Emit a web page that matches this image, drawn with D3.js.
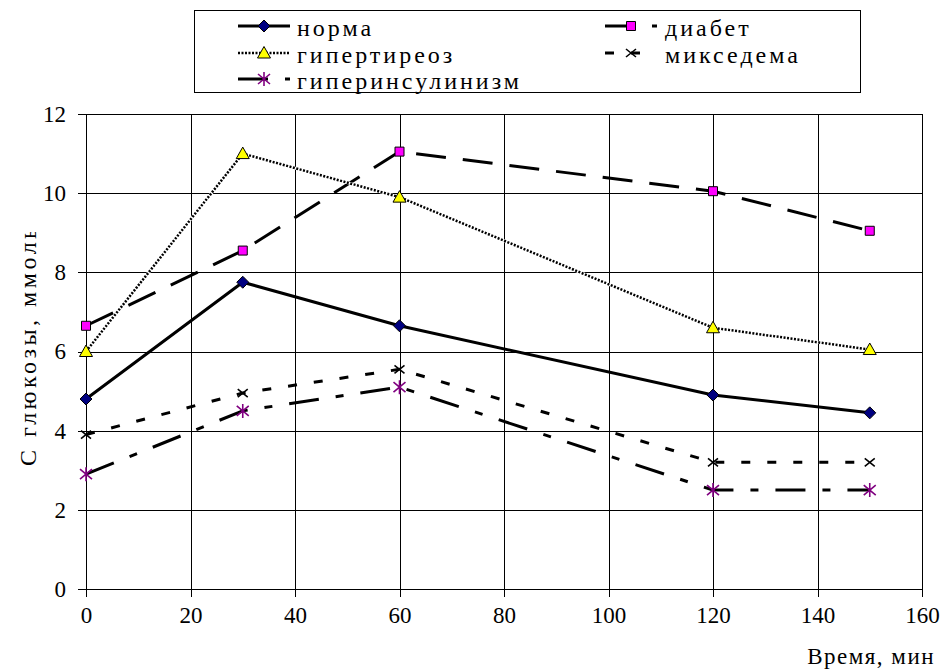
<!DOCTYPE html>
<meta charset="utf-8">
<style>
	body { margin: 0; background: #fff; }
	.grid line { stroke: #000; stroke-width: 1; shape-rendering: crispEdges; }
	.axis path, .axis line { stroke: #000; shape-rendering: crispEdges; }
</style>
<div id="chart"></div>
<script src="https://d3js.org/d3.v7.min.js"></script>
<script>

	// ---- //
	// Data //
	// ---- //
	const times = [0, 30, 60, 120, 150];
	const norma = [4.8, 7.75, 6.65, 4.9, 4.45];
	const diabet = [6.65, 8.55, 11.05, 10.05, 9.05];
	const hyperthyroid = [6.0, 11.0, 9.9, 6.6, 6.05];
	const myxedema = [3.9, 4.95, 5.55, 3.2, 3.2];
	const hyperinsulin = [2.9, 4.5, 5.1, 2.5, 2.5];
	const seriesNames = ["норма", "диабет", "гипертиреоз", "микседема", "гиперинсулинизм"];
	const xTicks = [0, 20, 40, 60, 80, 100, 120, 140, 160];
	const yTicks = [0, 2, 4, 6, 8, 10, 12];

	// styles per series (in same order as names)
	const styles = [
		{ values: norma, dash: null, width: 3, marker: "diamond", fill: "#000080" },
		{ values: diabet, dash: "30,17", width: 3, marker: "square", fill: "#ff00ff" },
		{ values: hyperthyroid, dash: "2,1.5", width: 2.5, marker: "triangle", fill: "#ffff00", dotted: true },
		{ values: myxedema, dash: "9,17", width: 3, marker: "cross", fill: "none" },
		{ values: hyperinsulin, dash: "30,17,8,17", width: 3, marker: "asterisk", fill: "#800080" }
	];

	const serif = "'Liberation Serif'";

	// ----- //
	// Setup //
	// ----- //
	const W = 941, H = 670;
	const margin = { left: 86, right: 19, top: 114, bottom: 81 };
	const width = W - margin.left - margin.right,
		height = H - margin.top - margin.bottom;

	const x = d3.scaleLinear().domain([0, 160]).range([0, width]);
	const y = d3.scaleLinear().domain([0, 12]).range([height, 0]);

	const svg = d3.select("#chart").append("svg")
		.attr("width", W)
		.attr("height", H);

	const g = svg.append("g")
		.attr("transform", "translate(" + margin.left + "," + margin.top + ")");

	// GRID
	const grid = g.append("g").attr("class", "grid");
	grid.selectAll(".h").data(yTicks.slice(1)).enter().append("line")
		.attr("x1", 0).attr("x2", width)
		.attr("y1", d => Math.round(y(d)) + 0.5).attr("y2", d => Math.round(y(d)) + 0.5);
	grid.selectAll(".v").data(xTicks.slice(1)).enter().append("line")
		.attr("y1", 0).attr("y2", height)
		.attr("x1", d => Math.round(x(d)) + 0.5).attr("x2", d => Math.round(x(d)) + 0.5);

	// AXES
	g.append("g").attr("class", "axis")
		.call(d3.axisLeft(y).tickValues(yTicks).tickSize(8).tickSizeOuter(0).tickPadding(12));
	g.append("g").attr("class", "axis")
		.attr("transform", "translate(0," + height + ")")
		.call(d3.axisBottom(x).tickValues(xTicks).tickSize(8).tickSizeOuter(0).tickPadding(10));
	g.selectAll(".axis").attr("font-family", "Liberation Serif").attr("font-size", 23);
	g.selectAll(".axis text")
		.style("font-family", serif)
		.style("font-size", "23px")
		.style("fill", "#000");

	// AXIS TITLES
	svg.append("text")
		.attr("x", 935)
		.attr("y", 664)
		.attr("text-anchor", "end")
		.style("font-family", serif)
		.style("font-size", "23px")
		.style("letter-spacing", "1.5px")
		.text("Время, мин");

	svg.append("clipPath").attr("id", "yclip")
		.append("rect").attr("x", 0).attr("y", 232).attr("width", 60).attr("height", 300);
	svg.append("g").attr("clip-path", "url(#yclip)")
		.append("text")
		.attr("transform", "translate(36,466) rotate(-90)")
		.style("font-family", serif)
		.style("font-size", "24px")
		.style("letter-spacing", "3.5px")
		.text("С глюкозы, ммоль/л");

	// MARKERS
	function markerPath(type) {
		switch (type) {
			case "diamond": return "M0,-6L6,0L0,6L-6,0Z";
			case "square": return "M-4.5,-4.5H4.5V4.5H-4.5Z";
			case "triangle": return "M0,-6.5L6.5,5H-6.5Z";
			case "cross": return "M-5,-4L5,4M-5,4L5,-4";
			case "asterisk": return "M-6,-5L6,5M-6,5L6,-5M0,-7V7";
		}
	}
	function drawMarker(sel, s) {
		const p = sel.append("path").attr("d", markerPath(s.marker));
		if (s.marker === "cross") {
			p.attr("fill", "none").attr("stroke", "#000").attr("stroke-width", 1.6);
		} else if (s.marker === "asterisk") {
			p.attr("fill", "none").attr("stroke", s.fill).attr("stroke-width", 1.6);
		} else {
			p.attr("fill", s.fill).attr("stroke", "#000").attr("stroke-width", 1);
		}
	}

	// LINES
	const line = d3.line()
		.x((d, i) => x(times[i]))
		.y(d => y(d));

	styles.forEach(s => {
		if (s.dotted) {
			g.append("path").attr("d", line(s.values))
				.attr("fill", "none").attr("stroke", "#fff").attr("stroke-width", s.width + 0.5);
		}
		g.append("path").attr("d", line(s.values))
			.attr("fill", "none")
			.attr("stroke", "#000")
			.attr("stroke-width", s.width)
			.attr("stroke-dasharray", s.dash)
			.attr("stroke-linejoin", "round");
	});
	styles.forEach(s => {
		s.values.forEach((v, i) => {
			const m = g.append("g").attr("transform", "translate(" + x(times[i]) + "," + y(v) + ")");
			drawMarker(m, s);
		});
	});

	// LEGEND
	svg.append("rect")
		.attr("x", 194.5).attr("y", 10.5)
		.attr("width", 666).attr("height", 82)
		.attr("fill", "#fff").attr("stroke", "#000").attr("stroke-width", 1);

	const legendPos = [[238, 26], [605, 26], [238, 53], [605, 53], [238, 79]];
	styles.forEach((s, i) => {
		const [lx, ly] = legendPos[i];
		const lg = svg.append("g").attr("transform", "translate(" + lx + "," + ly + ")");
		if (s.dotted) {
			lg.append("line").attr("x1", 0).attr("x2", 52)
				.attr("stroke", "#fff").attr("stroke-width", s.width + 0.5);
		}
		lg.append("line").attr("x1", 0).attr("x2", 52)
			.attr("stroke", "#000")
			.attr("stroke-width", s.width)
			.attr("stroke-dasharray", s.dash);
		const m = lg.append("g").attr("transform", "translate(26,0)");
		drawMarker(m, s);
		lg.append("text")
			.attr("x", i % 2 === 0 ? 59 : 60)
			.attr("y", 10)
			.style("font-family", serif)
			.style("font-size", "24px")
			.style("letter-spacing", "3px")
			.text(seriesNames[i]);
	});
</script>
